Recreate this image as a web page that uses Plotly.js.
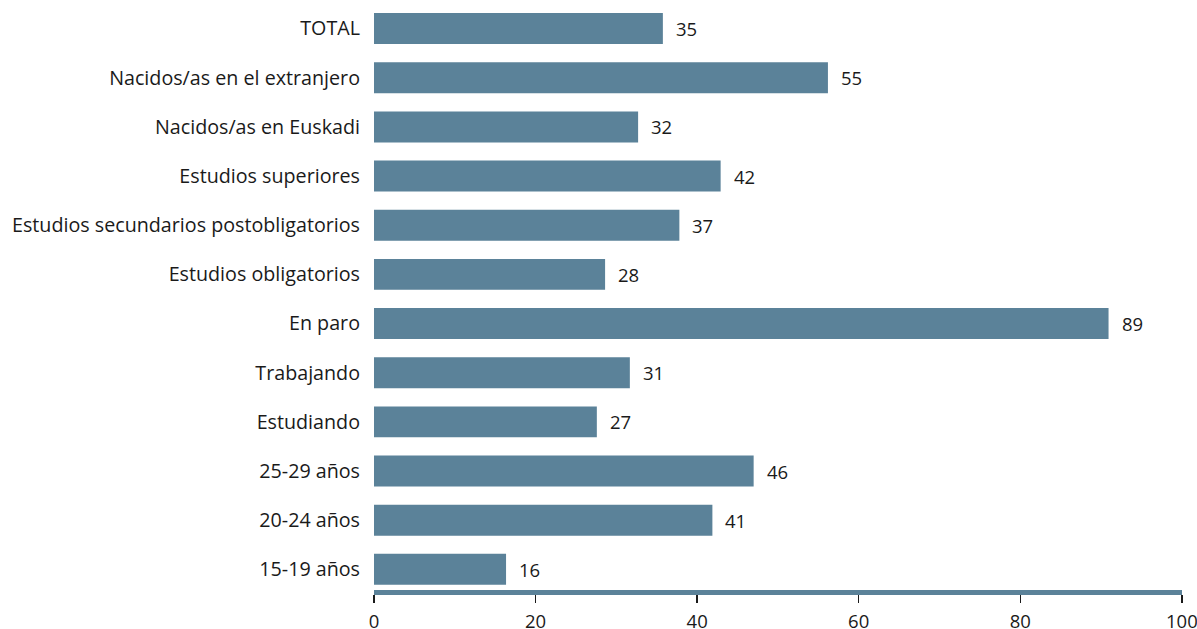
<!DOCTYPE html>
<html><head><meta charset="utf-8">
<script src="https://cdn.plot.ly/plotly-3.0.1.min.js"></script>
<style>body{margin:0;background:#fff}#c{width:1197px;height:629px}</style>
</head><body><div id="c"></div>
<script>
const categories = ["TOTAL","Nacidos/as en el extranjero","Nacidos/as en Euskadi","Estudios superiores","Estudios secundarios postobligatorios","Estudios obligatorios","En paro","Trabajando","Estudiando","25-29 años","20-24 años","15-19 años"];
const values = [35,55,32,42,37,28,89,31,27,46,41,16];
const tickValues = [0,20,40,60,80,100];

const font = "'Open Sans', 'Noto Sans', sans-serif";
const barColor = "#5b8299";
const textColor = "#1a1a1a";

const data = [{
  type: "bar", orientation: "h",
  y: categories, x: values,
  xaxis: "x", yaxis: "y",
  marker: {color: barColor},
  textposition: "none",
  hoverinfo: "skip"
},{
  type: "scatter", mode: "markers", x: [0], y: [categories[0]],
  xaxis: "x2", yaxis: "y", marker: {opacity: 0}, hoverinfo: "skip", showlegend: false
}];

const annotations = values.map((v,i)=>({
  x: v, y: categories[i], xref: "x", yref: "y", text: String(v),
  showarrow: false, xanchor: "left", xshift: 11,
  font: {family: font, size: 18.5, color: textColor}
}));

const layout = {
  width: 1197, height: 629,
  margin: {l: 374, r: 15, t: 4, b: 39},
  paper_bgcolor: "#fff", plot_bgcolor: "#fff",
  showlegend: false, bargap: 0.37,
  font: {family: font, size: 18, color: textColor},
  xaxis: {range: [0, 97.9], visible: false, fixedrange: true},
  xaxis2: {overlaying: "x", anchor: "y", side: "bottom", range: [0, 100.02],
    tickvals: tickValues, ticktext: tickValues.map(String), ticklabeloverflow: "allow",
    showgrid: false, zeroline: false, showline: true, linewidth: 5, linecolor: barColor,
    ticks: "outside", ticklen: 8, tickwidth: 1.5, tickcolor: textColor, ticklabelstandoff: 3,
    tickfont: {family: font, size: 18.5, color: textColor}},
  yaxis: {type: "category", categoryorder: "array", categoryarray: categories,
    range: [11.42, -0.5], autorange: false, showgrid: false, zeroline: false, showline: false,
    ticks: "", ticklabelstandoff: 13,
    tickfont: {family: font, size: 19.7, color: textColor}},
  annotations: annotations
};
Plotly.newPlot("c", data, layout, {displayModeBar: false, staticPlot: true});
</script></body></html>
